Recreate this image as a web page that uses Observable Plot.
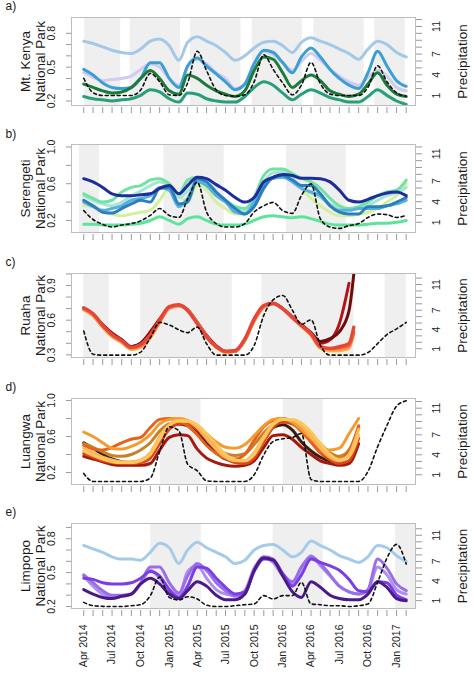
<!DOCTYPE html>
<html><head><meta charset="utf-8">
<script src="https://cdn.jsdelivr.net/npm/d3@7"></script>
<script src="https://cdn.jsdelivr.net/npm/@observablehq/plot@0.6"></script>
<style>
body{margin:0;background:#fff;}
#chart svg{display:block;}
</style></head><body><div id="chart"></div>
<script>
// month offsets from Apr 2014
const MONTHS = d3.range(35);
const TICK_LABELS = ["Apr 2014","Jul 2014","Oct 2014","Jan 2015","Apr 2015","Jul 2015","Oct 2015","Jan 2016","Apr 2016","Jul 2016","Oct 2016","Jan 2017"];
const TICK_LABEL_MONTHS = [0,3,6,9,12,15,18,21,24,27,30,33];
const PRECIP_TICKS = [1,2,3,4,5,6,7,8,9,10,11,12];
const PRECIP_LABELS = [1,4,7,11];

// ---- a) Mt. Kenya
const aBands = [[0.1,3.9],[4.9,10.2],[11.3,16.6],[17.8,23.1],[24.3,29.6],[30.7,33.9]];
const A_lightblue = [0.73,0.71,0.68,0.65,0.63,0.62,0.66,0.73,0.75,0.69,0.56,0.72,0.77,0.73,0.69,0.63,0.56,0.60,0.67,0.72,0.73,0.69,0.63,0.72,0.76,0.73,0.70,0.66,0.62,0.57,0.66,0.73,0.70,0.63,0.59];
const A_lavender = [0.45,0.41,0.38,0.39,0.40,0.42,0.48,0.53,0.50,0.40,0.34,0.50,0.57,0.53,0.45,0.40,0.31,0.35,0.53,0.64,0.61,0.54,0.47,0.55,0.62,0.56,0.48,0.42,0.37,0.34,0.41,0.47,0.42,0.32,0.29];
const A_blue = [0.48,0.43,0.36,0.32,0.31,0.32,0.40,0.54,0.54,0.40,0.32,0.51,0.58,0.51,0.44,0.37,0.30,0.35,0.53,0.65,0.63,0.54,0.45,0.59,0.67,0.59,0.48,0.40,0.34,0.31,0.45,0.64,0.51,0.38,0.33];
const A_teal = [0.24,0.22,0.21,0.20,0.21,0.22,0.25,0.30,0.28,0.22,0.19,0.27,0.26,0.22,0.20,0.19,0.19,0.24,0.32,0.37,0.34,0.27,0.21,0.26,0.30,0.27,0.23,0.21,0.19,0.19,0.24,0.30,0.25,0.20,0.17];
const A_darkgreen = [0.35,0.32,0.29,0.27,0.28,0.32,0.40,0.47,0.40,0.29,0.26,0.43,0.40,0.34,0.29,0.26,0.24,0.29,0.47,0.59,0.57,0.45,0.32,0.38,0.43,0.38,0.29,0.26,0.24,0.26,0.35,0.45,0.34,0.26,0.24];
const A_precip = [3.5,1.4,1.0,1.0,1.0,1.0,1.8,4.2,3.0,1.1,1.0,2.8,7.4,4.6,1.8,1.0,0.9,1.1,3.0,6.9,4.8,2.8,1.1,2.5,5.8,2.7,1.2,1.0,1.0,1.0,2.2,5.3,3.0,1.4,0.9];

// ---- b) Serengeti
const bBands = [[-0.45,1.66],[8.45,14.86],[21.4,27.7]];
const B_yellowgreen = [0.36,0.35,0.31,0.27,0.25,0.27,0.29,0.31,0.42,0.55,0.47,0.40,0.58,0.53,0.40,0.33,0.27,0.27,0.40,0.58,0.67,0.67,0.64,0.55,0.44,0.36,0.29,0.25,0.25,0.27,0.29,0.33,0.40,0.47,0.60];
const B_aqua = [0.47,0.42,0.38,0.36,0.40,0.47,0.52,0.58,0.62,0.58,0.45,0.52,0.64,0.60,0.50,0.42,0.33,0.30,0.42,0.62,0.72,0.73,0.66,0.56,0.50,0.45,0.38,0.34,0.32,0.33,0.36,0.42,0.47,0.50,0.56];
const B_green = [0.49,0.44,0.40,0.42,0.51,0.56,0.58,0.64,0.655,0.60,0.49,0.64,0.67,0.58,0.49,0.42,0.35,0.33,0.45,0.69,0.76,0.76,0.71,0.66,0.62,0.55,0.44,0.36,0.33,0.35,0.40,0.47,0.51,0.53,0.64];
const B_sky = [0.40,0.35,0.31,0.33,0.36,0.42,0.44,0.47,0.56,0.53,0.35,0.44,0.62,0.58,0.47,0.40,0.29,0.27,0.40,0.58,0.655,0.67,0.62,0.55,0.51,0.47,0.36,0.31,0.31,0.33,0.33,0.33,0.36,0.38,0.42];
const B_blue = [0.42,0.36,0.29,0.28,0.33,0.38,0.42,0.40,0.55,0.56,0.38,0.40,0.655,0.62,0.51,0.42,0.33,0.27,0.35,0.55,0.67,0.69,0.64,0.58,0.58,0.49,0.36,0.29,0.27,0.27,0.35,0.35,0.36,0.40,0.45];
const B_navy = [0.655,0.62,0.56,0.49,0.47,0.47,0.48,0.49,0.55,0.58,0.49,0.58,0.67,0.655,0.59,0.53,0.45,0.40,0.45,0.62,0.67,0.70,0.69,0.66,0.66,0.655,0.62,0.53,0.42,0.40,0.43,0.47,0.50,0.51,0.47];
const B_mint = [0.16,0.16,0.15,0.15,0.15,0.16,0.17,0.20,0.24,0.20,0.16,0.22,0.24,0.20,0.16,0.15,0.15,0.16,0.20,0.24,0.25,0.24,0.23,0.24,0.22,0.19,0.16,0.15,0.15,0.15,0.16,0.17,0.17,0.18,0.20];
const B_precip = [2.7,1.4,0.7,0.3,0.6,0.8,1.2,2.0,3.0,2.0,1.7,4.4,6.85,2.5,0.8,0.3,0.3,0.8,2.5,3.4,3.9,2.7,2.3,4.9,6.6,1.5,0.3,0.1,0.5,0.8,1.7,2.2,2.1,1.7,2.0];

// ---- c) Ruaha
const cBands = [[0,2.7],[6.0,15.7],[18.8,28.5],[31.8,34]];
const C_MONTHS = [0,1,2,3,4,5,6,7,8,9,10,11,12,13,14,15,16,17,18,19,20,21,22,23,24,25,26,27,28,28.5];
const C_darkred = [0.70,0.65,0.56,0.49,0.43,0.37,0.40,0.50,0.61,0.71,0.73,0.69,0.58,0.47,0.38,0.33,0.33,0.43,0.60,0.72,0.745,0.70,0.63,0.56,0.49,0.40,0.43,0.57,0.92,null];
const C_maroon = [0.70,0.65,0.56,0.48,0.43,0.37,0.40,0.49,0.60,0.71,0.73,0.69,0.58,0.46,0.37,0.33,0.33,0.43,0.60,0.72,0.745,0.70,0.62,0.56,0.49,0.415,0.44,0.50,0.68,1.0];
const C_yellow = [0.69,0.63,0.53,0.45,0.40,0.34,0.36,0.44,0.57,0.70,0.72,0.69,0.58,0.45,0.36,0.32,0.33,0.42,0.58,0.71,0.74,0.70,0.62,0.54,0.46,0.35,0.33,0.33,0.35,null];
const C_lightorange = [0.69,0.64,0.54,0.46,0.41,0.35,0.37,0.45,0.58,0.70,0.72,0.69,0.58,0.46,0.37,0.32,0.33,0.42,0.59,0.71,0.74,0.70,0.62,0.55,0.47,0.36,0.34,0.34,0.36,0.48];
const C_orangered = [0.70,0.65,0.55,0.47,0.42,0.36,0.38,0.46,0.59,0.71,0.73,0.69,0.58,0.46,0.37,0.33,0.33,0.43,0.60,0.72,0.745,0.70,0.62,0.55,0.48,0.37,0.35,0.36,0.38,0.50];
const C_red = [0.707,0.655,0.555,0.476,0.424,0.365,0.39,0.476,0.60,0.718,0.733,0.684,0.568,0.453,0.372,0.332,0.338,0.438,0.612,0.727,0.747,0.698,0.626,0.554,0.482,0.372,0.356,0.37,0.40,0.54];
const C_precip = [3.75,0.15,0,0,0,0,0.48,2.7,5.1,4.7,3.95,3.5,4.37,1.78,0,0,0,0,1.5,6.2,8.6,9.3,7.0,4.8,5.5,1.5,0,0,0,0,0.4,1.8,3.2,4.1,5.1];

// ---- d) Luangwa
const dBands = [[8.1,12.4],[21.05,25.3]];
const D_MONTHS = d3.range(30);
const D_darkred = [0.38,0.35,0.32,0.29,0.28,0.28,0.28,0.30,0.45,0.59,0.62,0.61,0.46,0.36,0.31,0.28,0.27,0.28,0.33,0.48,0.61,0.62,0.57,0.48,0.40,0.33,0.30,0.28,0.30,0.52];
const D_darkbrown = [0.53,0.47,0.40,0.35,0.32,0.31,0.32,0.38,0.55,0.70,0.74,0.72,0.64,0.52,0.42,0.35,0.32,0.32,0.40,0.58,0.70,0.73,0.67,0.54,0.44,0.37,0.33,0.32,0.42,0.70];
const D_tan = [0.52,0.48,0.43,0.39,0.38,0.40,0.45,0.53,0.66,0.74,0.76,0.75,0.69,0.59,0.49,0.41,0.39,0.41,0.51,0.64,0.73,0.77,0.76,0.72,0.63,0.52,0.42,0.38,0.45,0.70];
const D_redorange = [0.41,0.37,0.33,0.31,0.30,0.30,0.31,0.36,0.52,0.68,0.74,0.74,0.68,0.57,0.45,0.36,0.31,0.30,0.36,0.54,0.70,0.76,0.74,0.66,0.54,0.42,0.34,0.30,0.33,0.58];
const D_darkorange = [0.50,0.46,0.45,0.48,0.53,0.57,0.59,0.70,0.79,0.80,0.78,0.72,0.62,0.50,0.41,0.36,0.35,0.40,0.56,0.71,0.78,0.80,0.76,0.66,0.54,0.43,0.37,0.35,0.43,0.72];
const D_orange = [0.65,0.60,0.53,0.47,0.46,0.49,0.54,0.62,0.74,0.79,0.80,0.78,0.72,0.63,0.54,0.48,0.47,0.51,0.61,0.72,0.79,0.80,0.76,0.68,0.58,0.49,0.45,0.47,0.63,0.80];
const D_lightorange = [0.47,0.42,0.37,0.34,0.32,0.32,0.34,0.42,0.60,0.73,0.78,0.77,0.70,0.58,0.46,0.37,0.33,0.33,0.42,0.60,0.74,0.79,0.78,0.72,0.60,0.47,0.37,0.33,0.40,0.68];
const D_yellow = [0.44,0.39,0.35,0.32,0.31,0.31,0.33,0.40,0.57,0.72,0.77,0.77,0.73,0.63,0.51,0.40,0.34,0.33,0.40,0.58,0.73,0.79,0.79,0.75,0.65,0.52,0.40,0.34,0.38,0.62];
const D_precip = [1.2,0,0,0,0,0,0,0.5,4.5,8.2,7.6,2.6,1.6,0.1,0,0,0,0,1.0,4.0,6.0,6.4,6.6,7.2,0.3,0,0,0,0,0,1.5,5.2,8.4,11.3,12.1];

// ---- e) Limpopo
const eBands = [[7.04,12.43],[20.0,25.3],[32.9,35.06]];
const E_lightblue = [0.74,0.71,0.68,0.64,0.62,0.62,0.61,0.68,0.76,0.72,0.58,0.70,0.77,0.72,0.68,0.64,0.58,0.61,0.70,0.74,0.75,0.70,0.64,0.68,0.78,0.74,0.70,0.65,0.62,0.59,0.64,0.74,0.72,0.65,0.60];
const E_lightpurple = [0.47,0.38,0.31,0.29,0.29,0.31,0.40,0.52,0.45,0.35,0.30,0.51,0.56,0.45,0.35,0.31,0.30,0.34,0.54,0.63,0.59,0.47,0.40,0.54,0.65,0.56,0.47,0.38,0.33,0.31,0.34,0.55,0.48,0.35,0.31];
const E_medpurple = [0.48,0.41,0.34,0.30,0.30,0.31,0.41,0.55,0.55,0.41,0.32,0.47,0.58,0.52,0.41,0.34,0.29,0.31,0.52,0.64,0.62,0.49,0.42,0.55,0.64,0.58,0.48,0.38,0.33,0.31,0.35,0.62,0.54,0.40,0.34];
const E_violet = [0.45,0.44,0.41,0.40,0.40,0.41,0.45,0.51,0.47,0.35,0.28,0.38,0.55,0.54,0.45,0.37,0.31,0.33,0.51,0.62,0.61,0.49,0.38,0.48,0.62,0.59,0.56,0.52,0.44,0.34,0.33,0.42,0.41,0.30,0.26];
const E_dark = [0.35,0.31,0.28,0.27,0.29,0.31,0.40,0.45,0.40,0.31,0.27,0.34,0.42,0.38,0.30,0.26,0.26,0.31,0.52,0.63,0.61,0.47,0.33,0.28,0.42,0.37,0.30,0.27,0.26,0.26,0.31,0.42,0.37,0.27,0.25];
const E_precip = [0.74,0.23,0.13,0.1,0.1,0.23,0.38,1.77,4.6,1.5,1.1,1.6,1.26,0.3,0.1,0.1,0.23,0.38,0.49,1.77,1.26,1.77,1.77,3.8,0.5,0.38,0.23,0.23,0.1,0.23,0.49,3.8,7.5,9.6,6.6];

// fractional month offset -> Date
const md = m => { const i = Math.floor(m), f = m - i; const t0 = Date.UTC(2014, 3 + i, 1), t1 = Date.UTC(2014, 4 + i, 1); return new Date(t0 + f * (t1 - t0)); };
const FONT = "'Liberation Sans', Arial, Helvetica, sans-serif";
const xDomain = [md(-1.3), md(35.06)];
const monthTicks = MONTHS.map(md);
const step = (a, b, s) => d3.range(Math.round((b - a) / s) + 1).map(i => +(a + i * s).toFixed(2));

function panel(cfg) {
  const {letter, title, ndvi, pdom, bands, series, months, precip, leftTicks, leftLabels, height, mt, mb, last} = cfg;
  const toV = p => ndvi[0] + (p - pdom[0]) / (pdom[1] - pdom[0]) * (ndvi[1] - ndvi[0]);
  const marks = [
    Plot.rect(bands, {x1: d => md(d[0]), x2: d => md(d[1]), y1: ndvi[0], y2: ndvi[1], fill: "#efefef"}),
    ...series.map(s => Plot.line(s.values.map((v, i) => ({x: md(months[i]), v})), {
      x: "x", y: "v", stroke: s.color, strokeWidth: s.w || 3, curve: "monotone-x",
      strokeLinecap: "round", strokeLinejoin: "round", clip: true
    })),
    Plot.line(precip.map((p, i) => ({x: md(MONTHS[i]), v: toV(p)})), {
      x: "x", y: "v", stroke: "#111", strokeWidth: 1.6, strokeDasharray: "3,3", curve: "monotone-x", clip: true
    }),
    Plot.frame({stroke: "#bdbdbd"}),
    Plot.axisX({ticks: monthTicks, tickSize: 6, tickFormat: () => "", stroke: "#9a9a9a", dy: 2, label: null}),
    Plot.axisY({ticks: leftTicks, tickSize: 5, tickFormat: () => "", stroke: "#9a9a9a", label: null}),
    Plot.axisY({anchor: "right", ticks: PRECIP_TICKS.map(toV), tickSize: 6, tickFormat: () => "", stroke: "#9a9a9a", label: null}),
    Plot.text(leftLabels, {y: d => d, text: d => d.toFixed(1), frameAnchor: "left", dx: -20, rotate: -90,
      textAnchor: "middle", lineAnchor: "middle", fontSize: 10.5, fill: "#222"}),
    Plot.text(PRECIP_LABELS, {y: d => toV(d), text: d => String(d), frameAnchor: "right", dx: 21, rotate: -90,
      textAnchor: "middle", lineAnchor: "middle", fontSize: 10.5, fill: "#222"}),
    Plot.text([title], {text: d => d, frameAnchor: "left", dx: -38.5, rotate: -90, textAnchor: "middle",
      lineAnchor: "middle", lineHeight: 1.12, fontSize: 13.5, fill: "#1a1a1a"}),
    Plot.text(["Precipitation"], {text: d => d, frameAnchor: "right", dx: 47, rotate: -90, textAnchor: "middle",
      lineAnchor: "middle", fontSize: 13.5, fill: "#1a1a1a"}),
    Plot.text([letter], {text: d => d, frameAnchor: "top-left", dx: -66, dy: -mt + 6, textAnchor: "start",
      lineAnchor: "middle", fontSize: 12, fill: "#1a1a1a"})
  ];
  if (last) {
    marks.push(Plot.text(TICK_LABEL_MONTHS, {x: d => md(d), text: (d, i) => TICK_LABELS[i], frameAnchor: "bottom",
      dy: 16, rotate: -90, textAnchor: "end", lineAnchor: "middle", fontSize: 10.5, fill: "#222"}));
  }
  return Plot.plot({
    width: 474, height, marginTop: mt, marginBottom: mb, marginLeft: 71, marginRight: 59,
    x: {type: "utc", domain: xDomain, label: null},
    y: {domain: ndvi, label: null},
    style: {fontFamily: FONT, fontSize: "10.5px", color: "#222", background: "#fff", overflow: "visible"},
    marks
  });
}

const panels = [
  {letter: "a)", title: "Mt. Kenya\nNational Park", ndvi: [0.16, 0.94], pdom: [-0.45, 12.3], bands: aBands,
   months: MONTHS, precip: A_precip, leftTicks: step(0.2, 0.8, 0.1), leftLabels: [0.2, 0.5, 0.8],
   height: 128, mt: 17, mb: 23,
   series: [
     {values: A_lightblue, color: "#a4c8e8"},
     {values: A_lavender, color: "#cfccef"},
     {values: A_blue, color: "#3c9fd4"},
     {values: A_teal, color: "#27a07a"},
     {values: A_darkgreen, color: "#1c7a3a"}
   ]},
  {letter: "b)", title: "Serengeti\nNational Park", ndvi: [0.069, 1.027], pdom: [-0.5, 12.36], bands: bBands,
   months: MONTHS, precip: B_precip, leftTicks: step(0.2, 1.0, 0.2), leftLabels: [0.2, 0.6, 1.0],
   height: 128, mt: 16, mb: 24,
   series: [
     {values: B_yellowgreen, color: "#d5f09c"},
     {values: B_aqua, color: "#a3e6d4"},
     {values: B_green, color: "#72e2a4"},
     {values: B_sky, color: "#58b0dc"},
     {values: B_blue, color: "#2c7fbf"},
     {values: B_navy, color: "#1d2d9c"},
     {values: B_mint, color: "#5ee49a"}
   ]},
  {letter: "c)", title: "Ruaha\nNational Park", ndvi: [0.277, 1.004], pdom: [-0.37, 12.72], bands: cBands,
   months: C_MONTHS, precip: C_precip, leftTicks: step(0.3, 1.0, 0.1), leftLabels: [0.3, 0.6, 0.9],
   height: 125, mt: 17, mb: 24,
   series: [
     {values: C_darkred, color: "#b3141c"},
     {values: C_maroon, color: "#6e0c0c"},
     {values: C_yellow, color: "#fdcb5a", w: 2.2},
     {values: C_lightorange, color: "#fb9c52"},
     {values: C_orangered, color: "#f4673f"},
     {values: C_red, color: "#e5463a", w: 3.4}
   ]},
  {letter: "d)", title: "Luangwa\nNational Park", ndvi: [0.067, 1.022], pdom: [-0.46, 12.45], bands: dBands,
   months: D_MONTHS, precip: D_precip, leftTicks: step(0.2, 1.0, 0.2), leftLabels: [0.2, 0.6, 1.0],
   height: 125, mt: 17, mb: 22,
   series: [
     {values: D_darkred, color: "#a3190d"},
     {values: D_darkbrown, color: "#3c1d0d"},
     {values: D_tan, color: "#c4832a"},
     {values: D_redorange, color: "#d9481a"},
     {values: D_darkorange, color: "#e5631a"},
     {values: D_orange, color: "#f39c2d"},
     {values: D_lightorange, color: "#fdb55e"},
     {values: D_yellow, color: "#fcc85c"}
   ]},
  {letter: "e)", title: "Limpopo\nNational Park", ndvi: [0.182, 0.935], pdom: [-0.2, 12.8], bands: eBands,
   months: MONTHS, precip: E_precip, leftTicks: step(0.2, 0.9, 0.1), leftLabels: [0.2, 0.5, 0.8],
   height: 173, mt: 17, mb: 71, last: true,
   series: [
     {values: E_lightblue, color: "#a6cbe9"},
     {values: E_lightpurple, color: "#ae8ff0"},
     {values: E_medpurple, color: "#9a6ee6"},
     {values: E_violet, color: "#7b3ee4"},
     {values: E_dark, color: "#4b1a8a"}
   ]}
];

const root = document.getElementById("chart");
panels.forEach(p => root.appendChild(panel(p)));
</script></body></html>
